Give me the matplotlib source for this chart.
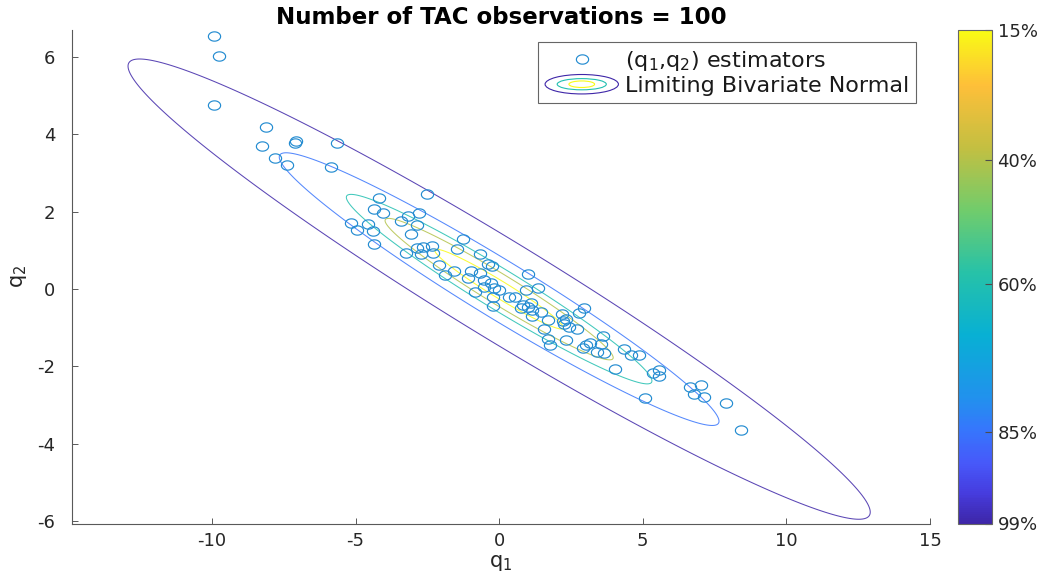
import numpy as np
import matplotlib
matplotlib.use('Agg')
import matplotlib.pyplot as plt
from matplotlib.colors import LinearSegmentedColormap, Normalize
from matplotlib.cm import ScalarMappable
from matplotlib.legend_handler import HandlerBase
from matplotlib.patches import Ellipse
from matplotlib.lines import Line2D
from matplotlib.path import Path

# ---------------- data ----------------
q1 = [-9.94, -9.74, -9.93, -8.11, -8.27, -7.08, -7.12, -5.64, -7.79, -7.40,
      -5.86, -2.50, -4.17, -4.34, -4.05, -3.17, -2.79, -3.40, -2.86, -5.14,
      -4.95, -4.58, -4.38, -3.06, -4.34, -1.26, -1.48, -3.25, -2.87, -2.64,
      -2.34, -2.29, -2.73, -2.10, -1.90, -1.58, -1.10, -0.85, -0.68, -0.40,
      -0.26, -0.99, -0.68, -0.52, -0.29, -0.52, -0.17, 0.00, -0.20, -0.23,
      0.35, 0.55, 1.00, 1.34, 0.93, 0.82, 0.99, 1.16, 1.45, 0.76,
      1.11, 1.16, 1.69, 1.57, 1.69, 1.78, 2.18, 2.33, 2.21, 2.27,
      2.44, 2.71, 2.96, 2.79, 2.33, 3.02, 3.17, 3.62, 3.55, 3.40,
      3.66, 4.35, 4.59, 4.88, 4.02, 2.91, 5.35, 5.58, 5.58, 5.08,
      6.63, 7.04, 6.80, 7.13, 7.91, 8.41]
q2 = [6.55, 6.03, 4.75, 4.18, 3.70, 3.83, 3.77, 3.79, 3.38, 3.20,
      3.16, 2.47, 2.36, 2.06, 1.97, 1.89, 1.96, 1.77, 1.66, 1.71,
      1.54, 1.68, 1.50, 1.43, 1.16, 1.30, 1.03, 0.94, 1.07, 1.08,
      1.11, 0.94, 0.91, 0.62, 0.37, 0.47, 0.30, -0.07, 0.92, 0.66,
      0.59, 0.47, 0.42, 0.23, 0.15, 0.06, 0.02, -0.03, -0.20, -0.44,
      -0.21, -0.20, 0.40, 0.04, -0.03, -0.41, -0.46, -0.54, -0.59, -0.50,
      -0.37, -0.70, -0.80, -1.04, -1.30, -1.45, -0.65, -0.78, -0.82, -0.89,
      -0.97, -1.04, -0.50, -0.61, -1.32, -1.45, -1.40, -1.22, -1.42, -1.62,
      -1.66, -1.56, -1.70, -1.71, -2.06, -1.51, -2.16, -2.09, -2.25, -2.81,
      -2.54, -2.48, -2.70, -2.80, -2.94, -3.63]

# limiting bivariate normal
mean = [0.0, 0.0]
sd = [3.93, 1.81]
rho = -0.969
coverage = [0.15, 0.40, 0.60, 0.85, 0.9955]
level_labels = ['15%', '40%', '60%', '85%', '99%']
level_cpos = [1.0, 0.737, 0.486, 0.186, 0.0]

title = 'Number of TAC observations = 100'
xlim = (-14.87, 15.0)
ylim = (-6.06, 6.70)
xticks = [-10, -5, 0, 5, 10, 15]
yticks = [-6, -4, -2, 0, 2, 4, 6]

# ---------------- style ----------------
plt.rcParams['font.family'] = ['DejaVu Sans']
plt.rcParams['axes.unicode_minus'] = False
plt.rcParams['mathtext.fontset'] = 'dejavusans'

parula_anchors = [
    (0.000, (0.2422, 0.1504, 0.6603)),
    (0.060, (0.2740, 0.2350, 0.8700)),
    (0.120, (0.2780, 0.3450, 0.9780)),
    (0.190, (0.2100, 0.4650, 0.9900)),
    (0.254, (0.1300, 0.5700, 0.9300)),
    (0.381, (0.0300, 0.6900, 0.8300)),
    (0.508, (0.1500, 0.7600, 0.6600)),
    (0.635, (0.4420, 0.8005, 0.4218)),
    (0.762, (0.7650, 0.7500, 0.2560)),
    (0.889, (0.9950, 0.7500, 0.2240)),
    (1.000, (0.9769, 0.9839, 0.0805)),
]
parula = LinearSegmentedColormap.from_list('parula', parula_anchors, N=256)

W, H = 1043, 574
fig = plt.figure(figsize=(W / 100, H / 100), dpi=100)
ax_l, ax_r, ax_t, ax_b = 72, 930, 30, 523.5
ax = fig.add_axes([ax_l / W, (H - ax_b) / H, (ax_r - ax_l) / W, (ax_b - ax_t) / H])

# contours
gx = np.linspace(xlim[0], xlim[1], 700)
gy = np.linspace(ylim[0], ylim[1], 500)
X, Y = np.meshgrid(gx, gy)
dx = (X - mean[0]) / sd[0]
dy = (Y - mean[1]) / sd[1]
D2 = (dx ** 2 - 2 * rho * dx * dy + dy ** 2) / (1 - rho ** 2)
r2_levels = [-2 * np.log(1 - p) for p in coverage]
level_colors = [parula(c) for c in level_cpos]
ax.contour(X, Y, D2, levels=r2_levels, colors=level_colors, linewidths=0.75,
           alpha=0.85)

# scatter (markers appear slightly wide in the reference)
t = np.linspace(0, 2 * np.pi, 65)
ell_marker = Path(np.c_[np.cos(t), 0.76 * np.sin(t)], closed=True)
pt_color = (0.14, 0.55, 0.82)
ax.plot(q1, q2, linestyle='none', marker=ell_marker, ms=8.8, mfc='none',
        mec=pt_color, mew=0.85)

ax.set_xlim(*xlim)
ax.set_ylim(*ylim)
ax.set_xticks(xticks)
ax.set_yticks(yticks)
for s in ['top', 'right']:
    ax.spines[s].set_visible(False)
for s in ['left', 'bottom']:
    ax.spines[s].set_color('0.35')
    ax.spines[s].set_linewidth(0.8)
ax.tick_params(direction='in', length=4, width=0.7, color='0.35',
               labelcolor='0.15', labelsize=13)
ax.tick_params(axis='x', pad=6)
ax.tick_params(axis='y', pad=12)
ax.set_xlabel('q$_1$', fontsize=15, color='0.15', labelpad=2)
ax.set_ylabel('q$_2$', fontsize=15, color='0.15', labelpad=6)
ax.set_title(title, fontsize=16.5, fontweight='bold', color='black', pad=4)

# legend
class HandlerNested(HandlerBase):
    def __init__(self, colors, **kw):
        super().__init__(**kw)
        self.colors = colors

    def create_artists(self, legend, orig_handle, xdescent, ydescent,
                       width, height, fontsize, trans):
        cx = width / 2 - xdescent
        cy = height / 2 - ydescent
        arts = []
        for (fw, fh), c in zip([(1.0, 1.25), (0.67, 0.72), (0.35, 0.42)], self.colors):
            e = Ellipse((cx, cy), width * fw, height * fh, facecolor='none',
                        edgecolor=c, linewidth=0.8, transform=trans)
            arts.append(e)
        return arts

nested_handle = Ellipse((0, 0), 1, 1)
pt_handle = Line2D([], [], linestyle='none', marker=ell_marker, ms=8.8,
                   mfc='none', mec=pt_color, mew=0.85)
leg_colors = [parula(level_cpos[4]), parula(level_cpos[2]), parula(level_cpos[0])]
leg = ax.legend([pt_handle, nested_handle],
                ['(q$_1$,q$_2$) estimators', 'Limiting Bivariate Normal'],
                handler_map={Ellipse: HandlerNested(leg_colors)},
                loc='upper right',
                bbox_to_anchor=((916 - ax_l) / (ax_r - ax_l), 1 - (42 - ax_t) / (ax_b - ax_t)),
                borderaxespad=0, fancybox=False, framealpha=1, edgecolor='0.4',
                fontsize=16, handlelength=3.3, handletextpad=0.3,
                borderpad=0.3, labelspacing=0.15)
leg.get_frame().set_linewidth(0.8)
for txt in leg.get_texts():
    txt.set_color('0.1')

# colorbar
cb_l, cb_r = 957.5, 992
cax = fig.add_axes([cb_l / W, (H - ax_b) / H, (cb_r - cb_l) / W, (ax_b - ax_t) / H])
sm = ScalarMappable(norm=Normalize(0, 1), cmap=parula)
cb = fig.colorbar(sm, cax=cax, ticks=level_cpos)
cb.ax.set_yticklabels(level_labels)
cb.ax.tick_params(direction='in', length=5, width=0.8, color='0.3',
                  labelcolor='0.15', labelsize=13, pad=4)
cb.outline.set_edgecolor('0.4')
cb.outline.set_linewidth(0.8)

fig.savefig('out.png', dpi=100)
